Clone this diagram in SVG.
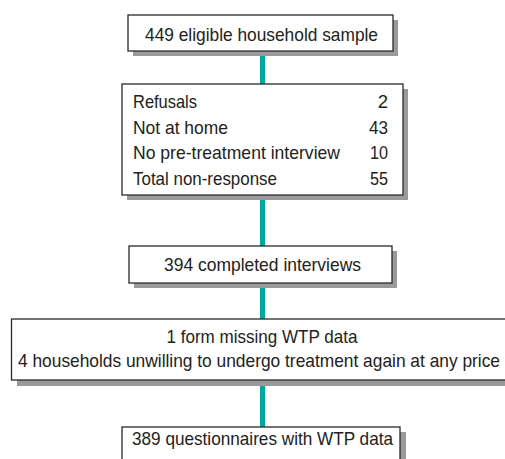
<svg xmlns="http://www.w3.org/2000/svg" width="505" height="459" viewBox="0 0 505 459">
<style>
.sh{fill:#9a9a9c}
.bx{fill:#fff;stroke:#2a2a2a;stroke-width:1.3}
.t{font-family:"Liberation Sans",Arial,sans-serif;font-size:18.5px;fill:#222}
.c{text-anchor:middle}
.r{text-anchor:end}
.cn{stroke:#00a99d;stroke-width:5;fill:none}
</style>
<rect width="505" height="459" fill="#fff"/>
<g id="connectors">
<line class="cn" x1="262.5" y1="51" x2="262.5" y2="84"/>
<line class="cn" x1="262.5" y1="195" x2="262.5" y2="246"/>
<line class="cn" x1="262.5" y1="283" x2="262.5" y2="319"/>
<line class="cn" x1="262.5" y1="380" x2="262.5" y2="427"/>
</g>
<g id="n1">
<rect class="sh" x="133" y="20" width="265" height="36"/>
<rect class="bx" x="128" y="15" width="265" height="36"/>
<text class="t c" x="261.5" y="41" textLength="233" lengthAdjust="spacingAndGlyphs">449 eligible household sample</text>
</g>
<g id="n2">
<rect class="sh" x="127" y="89" width="281" height="111"/>
<rect class="bx" x="122" y="84" width="281" height="111"/>
<text class="t" x="133" y="108" textLength="64" lengthAdjust="spacingAndGlyphs">Refusals</text>
<text class="t r" x="388" y="108">2</text>
<text class="t" x="133" y="133.5" textLength="95" lengthAdjust="spacingAndGlyphs">Not at home</text>
<text class="t r" x="388" y="133.5" textLength="19" lengthAdjust="spacingAndGlyphs">43</text>
<text class="t" x="133" y="159" textLength="207" lengthAdjust="spacingAndGlyphs">No pre-treatment interview</text>
<text class="t r" x="388" y="159" textLength="18" lengthAdjust="spacingAndGlyphs">10</text>
<text class="t" x="133" y="184.5" textLength="144" lengthAdjust="spacingAndGlyphs">Total non-response</text>
<text class="t r" x="388" y="184.5" textLength="18" lengthAdjust="spacingAndGlyphs">55</text>
</g>
<g id="n3">
<rect class="sh" x="134" y="251" width="263" height="37"/>
<rect class="bx" x="129" y="246" width="263" height="37"/>
<text class="t c" x="262.5" y="271" textLength="197" lengthAdjust="spacingAndGlyphs">394 completed interviews</text>
</g>
<g id="n4">
<rect class="sh" x="17" y="324" width="500" height="62"/>
<rect class="bx" x="11.5" y="319" width="500" height="61"/>
<text class="t c" x="262" y="343" textLength="191" lengthAdjust="spacingAndGlyphs">1 form missing WTP data</text>
<text class="t c" x="259" y="367" textLength="482" lengthAdjust="spacingAndGlyphs">4 households unwilling to undergo treatment again at any price</text>
</g>
<g id="n5">
<rect class="sh" x="127" y="432" width="279" height="40"/>
<rect class="bx" x="122" y="427" width="278" height="40"/>
<text class="t c" x="262.5" y="445" textLength="261" lengthAdjust="spacingAndGlyphs">389 questionnaires with WTP data</text>
</g>
</svg>
